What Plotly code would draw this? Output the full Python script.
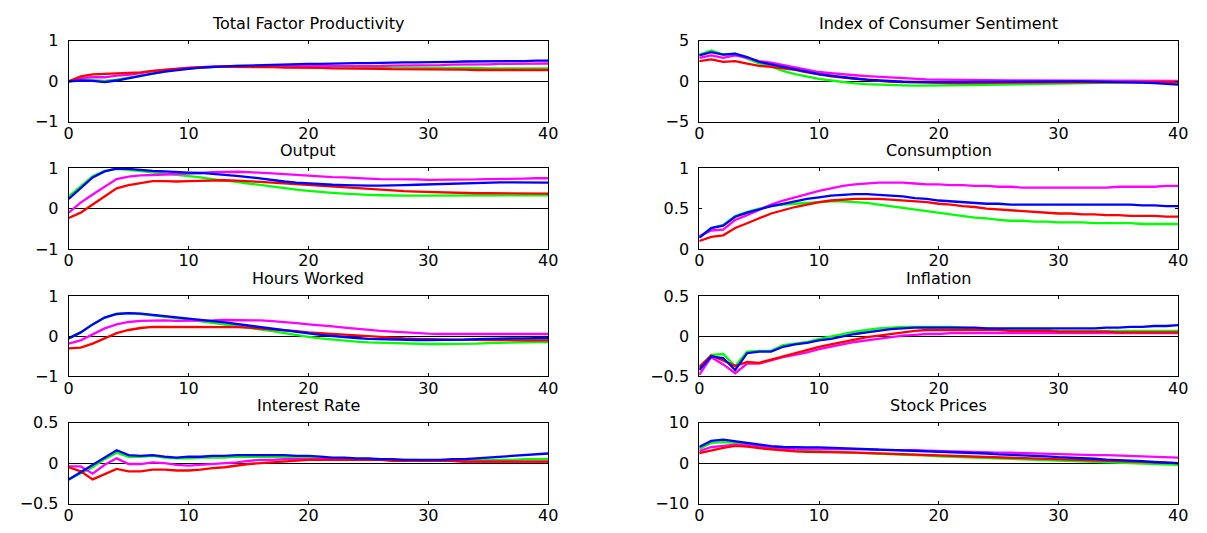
import plotly.graph_objects as go

x = list(range(41))

titles = ["Total Factor Productivity", "Index of Consumer Sentiment", "Output", "Consumption",
          "Hours Worked", "Inflation", "Interest Rate", "Stock Prices"]

series_names = ["green", "magenta", "red", "blue"]
colors = {"blue": "#0000FF", "green": "#00FF00", "magenta": "#FF00FF", "red": "#FF0000"}

# ---- Total Factor Productivity ----
tfp_blue = [0.00, 0.02, 0.01, -0.02, 0.02, 0.08, 0.13, 0.19, 0.24, 0.28,
            0.31, 0.34, 0.36, 0.37, 0.38, 0.39, 0.40, 0.41, 0.41, 0.42,
            0.43, 0.43, 0.44, 0.44, 0.45, 0.45, 0.46, 0.46, 0.47, 0.47,
            0.47, 0.48, 0.48, 0.49, 0.49, 0.49, 0.50, 0.50, 0.50, 0.51, 0.51]
tfp_green = [0.00, 0.03, 0.03, 0.01, 0.04, 0.09, 0.14, 0.20, 0.25, 0.29,
             0.32, 0.34, 0.36, 0.37, 0.38, 0.38, 0.38, 0.38, 0.38, 0.38,
             0.37, 0.37, 0.36, 0.36, 0.35, 0.35, 0.35, 0.34, 0.34, 0.34,
             0.33, 0.33, 0.33, 0.33, 0.33, 0.32, 0.32, 0.32, 0.32, 0.32, 0.32]
tfp_magenta = [0.00, 0.08, 0.10, 0.10, 0.14, 0.16, 0.20, 0.25, 0.28, 0.31,
               0.33, 0.35, 0.36, 0.37, 0.37, 0.37, 0.37, 0.37, 0.37, 0.37,
               0.37, 0.37, 0.37, 0.37, 0.38, 0.38, 0.38, 0.39, 0.39, 0.39,
               0.40, 0.40, 0.41, 0.41, 0.42, 0.42, 0.43, 0.43, 0.43, 0.44, 0.44]
tfp_red = [0.00, 0.12, 0.17, 0.18, 0.20, 0.20, 0.22, 0.26, 0.29, 0.31,
           0.33, 0.35, 0.36, 0.36, 0.36, 0.36, 0.35, 0.35, 0.34, 0.34,
           0.33, 0.33, 0.32, 0.32, 0.31, 0.31, 0.31, 0.30, 0.30, 0.30,
           0.29, 0.29, 0.29, 0.29, 0.28, 0.28, 0.28, 0.28, 0.28, 0.28, 0.28]

# ---- Index of Consumer Sentiment ----
ics_green = [3.3, 3.8, 3.3, 3.4, 2.8, 2.2, 1.8, 1.3, 0.9, 0.6,
             0.3, 0.1, -0.1, -0.25, -0.35, -0.42, -0.47, -0.5, -0.52, -0.53,
             -0.53, -0.52, -0.5, -0.48, -0.45, -0.42, -0.38, -0.34, -0.3, -0.27,
             -0.24, -0.21, -0.18, -0.16, -0.14, -0.13, -0.13, -0.14, -0.16, -0.18, -0.2]
ics_blue = [3.2, 3.6, 3.3, 3.4, 3.0, 2.4, 2.1, 1.8, 1.5, 1.2,
            0.9, 0.7, 0.5, 0.35, 0.2, 0.1, 0.0, -0.05, -0.08, -0.1,
            -0.1, -0.1, -0.09, -0.08, -0.06, -0.05, -0.03, -0.02, -0.01, 0.0,
            0.0, 0.0, 0.0, -0.02, -0.04, -0.07, -0.1, -0.15, -0.22, -0.3, -0.4]
ics_magenta = [2.9, 3.2, 2.9, 3.2, 2.9, 2.5, 2.3, 2.0, 1.7, 1.4,
               1.15, 1.0, 0.85, 0.75, 0.65, 0.55, 0.45, 0.37, 0.3, 0.24,
               0.2, 0.17, 0.15, 0.13, 0.12, 0.11, 0.1, 0.1, 0.1, 0.1,
               0.1, 0.1, 0.1, 0.1, 0.09, 0.09, 0.08, 0.07, 0.06, 0.05, 0.05]
ics_red = [2.5, 2.7, 2.4, 2.5, 2.2, 1.9, 1.8, 1.6, 1.4, 1.1,
           0.85, 0.6, 0.45, 0.3, 0.15, 0.05, -0.05, -0.1, -0.15, -0.18,
           -0.2, -0.21, -0.22, -0.22, -0.21, -0.2, -0.19, -0.17, -0.15, -0.13,
           -0.12, -0.11, -0.1, -0.1, -0.1, -0.1, -0.1, -0.1, -0.1, -0.1, -0.1]

# ---- Output ----
out_green = [0.30, 0.55, 0.80, 0.93, 0.98, 0.96, 0.93, 0.90, 0.87, 0.84,
             0.80, 0.77, 0.73, 0.70, 0.66, 0.62, 0.58, 0.54, 0.50, 0.47,
             0.44, 0.41, 0.39, 0.37, 0.35, 0.34, 0.33, 0.32, 0.32, 0.32,
             0.32, 0.32, 0.32, 0.32, 0.32, 0.32, 0.32, 0.33, 0.33, 0.33, 0.33]
out_blue = [0.24, 0.50, 0.77, 0.92, 0.99, 0.98, 0.95, 0.93, 0.92, 0.90,
            0.89, 0.88, 0.86, 0.84, 0.81, 0.78, 0.74, 0.70, 0.67, 0.64,
            0.62, 0.60, 0.59, 0.58, 0.57, 0.57, 0.57, 0.57, 0.58, 0.59,
            0.60, 0.61, 0.62, 0.63, 0.64, 0.64, 0.65, 0.65, 0.65, 0.65, 0.64]
out_magenta = [-0.10, 0.15, 0.35, 0.55, 0.73, 0.79, 0.82, 0.83, 0.84, 0.85,
               0.86, 0.88, 0.90, 0.91, 0.91, 0.90, 0.89, 0.87, 0.85, 0.83,
               0.81, 0.80, 0.78, 0.77, 0.75, 0.74, 0.73, 0.73, 0.72, 0.72,
               0.71, 0.71, 0.71, 0.72, 0.72, 0.73, 0.73, 0.74, 0.74, 0.75, 0.75]
out_red = [-0.23, -0.10, 0.10, 0.30, 0.50, 0.58, 0.63, 0.68, 0.68, 0.67,
           0.68, 0.69, 0.70, 0.70, 0.69, 0.68, 0.66, 0.64, 0.62, 0.60,
           0.58, 0.56, 0.54, 0.52, 0.50, 0.48, 0.46, 0.44, 0.43, 0.42,
           0.41, 0.40, 0.39, 0.39, 0.38, 0.38, 0.38, 0.37, 0.37, 0.37, 0.37]

# ---- Consumption ----
con_green = [0.15, 0.26, 0.30, 0.41, 0.46, 0.50, 0.53, 0.55, 0.56, 0.57,
             0.58, 0.59, 0.59, 0.58, 0.57, 0.55, 0.53, 0.51, 0.49, 0.47,
             0.45, 0.43, 0.41, 0.39, 0.38, 0.36, 0.35, 0.35, 0.34, 0.34,
             0.33, 0.33, 0.33, 0.32, 0.32, 0.32, 0.32, 0.31, 0.31, 0.31, 0.31]
con_blue = [0.14, 0.26, 0.29, 0.40, 0.45, 0.49, 0.53, 0.56, 0.59, 0.62,
            0.64, 0.66, 0.67, 0.68, 0.68, 0.67, 0.66, 0.65, 0.63, 0.62,
            0.60, 0.59, 0.58, 0.57, 0.56, 0.56, 0.55, 0.55, 0.55, 0.55,
            0.55, 0.55, 0.55, 0.55, 0.55, 0.55, 0.55, 0.54, 0.54, 0.53, 0.53]
con_magenta = [0.16, 0.23, 0.24, 0.36, 0.42, 0.48, 0.55, 0.60, 0.64, 0.68,
               0.72, 0.75, 0.78, 0.80, 0.81, 0.82, 0.82, 0.82, 0.81, 0.80,
               0.80, 0.79, 0.79, 0.78, 0.78, 0.77, 0.77, 0.76, 0.76, 0.76,
               0.76, 0.76, 0.76, 0.76, 0.76, 0.77, 0.77, 0.77, 0.77, 0.78, 0.78]
con_red = [0.10, 0.15, 0.17, 0.26, 0.32, 0.38, 0.44, 0.48, 0.52, 0.55,
           0.58, 0.60, 0.61, 0.62, 0.62, 0.62, 0.61, 0.60, 0.59, 0.58,
           0.56, 0.55, 0.53, 0.52, 0.50, 0.49, 0.48, 0.47, 0.46, 0.45,
           0.44, 0.44, 0.43, 0.43, 0.42, 0.42, 0.41, 0.41, 0.41, 0.40, 0.40]

# ---- Hours Worked ----
hrs_green = [-0.05, 0.10, 0.30, 0.47, 0.56, 0.58, 0.56, 0.53, 0.50, 0.46,
             0.42, 0.38, 0.34, 0.30, 0.26, 0.22, 0.18, 0.13, 0.08, 0.03,
             -0.01, -0.05, -0.08, -0.11, -0.13, -0.15, -0.16, -0.17, -0.18, -0.19,
             -0.19, -0.19, -0.19, -0.18, -0.18, -0.17, -0.16, -0.15, -0.15, -0.14, -0.14]
hrs_blue = [-0.05, 0.10, 0.30, 0.47, 0.56, 0.58, 0.57, 0.54, 0.51, 0.48,
            0.45, 0.42, 0.39, 0.35, 0.31, 0.27, 0.23, 0.19, 0.15, 0.11,
            0.07, 0.04, 0.01, -0.02, -0.04, -0.06, -0.07, -0.08, -0.08, -0.09,
            -0.09, -0.09, -0.08, -0.08, -0.07, -0.06, -0.06, -0.05, -0.05, -0.04, -0.04]
hrs_magenta = [-0.18, -0.10, 0.05, 0.20, 0.30, 0.36, 0.39, 0.40, 0.40, 0.39,
               0.39, 0.39, 0.40, 0.41, 0.41, 0.41, 0.40, 0.38, 0.36, 0.33,
               0.30, 0.28, 0.25, 0.22, 0.19, 0.16, 0.14, 0.12, 0.10, 0.08,
               0.07, 0.06, 0.06, 0.05, 0.05, 0.05, 0.05, 0.05, 0.06, 0.06, 0.06]
hrs_red = [-0.30, -0.28, -0.18, -0.05, 0.08, 0.16, 0.21, 0.24, 0.24, 0.24,
           0.23, 0.23, 0.23, 0.23, 0.23, 0.22, 0.20, 0.18, 0.16, 0.13,
           0.10, 0.08, 0.06, 0.04, 0.02, 0.00, -0.02, -0.04, -0.05, -0.06,
           -0.07, -0.08, -0.08, -0.08, -0.09, -0.09, -0.09, -0.10, -0.10, -0.10, -0.10]

# ---- Inflation ----
inf_green = [-0.40, -0.23, -0.22, -0.37, -0.19, -0.18, -0.18, -0.11, -0.09, -0.07,
             -0.03, 0.00, 0.03, 0.06, 0.08, 0.10, 0.11, 0.12, 0.12, 0.12,
             0.12, 0.12, 0.11, 0.10, 0.10, 0.09, 0.09, 0.08, 0.08, 0.08,
             0.07, 0.07, 0.07, 0.07, 0.07, 0.07, 0.07, 0.07, 0.07, 0.07, 0.07]
inf_blue = [-0.42, -0.25, -0.27, -0.42, -0.21, -0.19, -0.19, -0.13, -0.10, -0.08,
            -0.05, -0.03, 0.00, 0.03, 0.05, 0.07, 0.09, 0.10, 0.11, 0.11,
            0.11, 0.11, 0.11, 0.11, 0.10, 0.10, 0.10, 0.10, 0.10, 0.10,
            0.10, 0.10, 0.10, 0.10, 0.11, 0.11, 0.12, 0.12, 0.13, 0.13, 0.14]
inf_magenta = [-0.48, -0.26, -0.35, -0.46, -0.34, -0.34, -0.30, -0.26, -0.23, -0.20,
               -0.16, -0.13, -0.10, -0.07, -0.05, -0.03, -0.01, 0.01, 0.02, 0.03,
               0.03, 0.04, 0.04, 0.04, 0.04, 0.04, 0.04, 0.04, 0.04, 0.04,
               0.04, 0.04, 0.04, 0.04, 0.04, 0.04, 0.04, 0.04, 0.04, 0.04, 0.04]
inf_red = [-0.38, -0.24, -0.30, -0.37, -0.32, -0.33, -0.29, -0.25, -0.21, -0.17,
           -0.13, -0.10, -0.07, -0.04, -0.01, 0.01, 0.03, 0.05, 0.07, 0.08,
           0.08, 0.08, 0.08, 0.08, 0.08, 0.08, 0.07, 0.07, 0.07, 0.07,
           0.06, 0.06, 0.06, 0.06, 0.06, 0.05, 0.05, 0.05, 0.05, 0.05, 0.05]

# ---- Interest Rate ----
ir_blue = [-0.20, -0.11, -0.02, 0.08, 0.16, 0.10, 0.09, 0.10, 0.08, 0.07,
           0.08, 0.08, 0.09, 0.09, 0.10, 0.10, 0.10, 0.10, 0.10, 0.09,
           0.09, 0.08, 0.07, 0.07, 0.06, 0.06, 0.05, 0.05, 0.04, 0.04,
           0.04, 0.04, 0.05, 0.05, 0.06, 0.07, 0.08, 0.09, 0.10, 0.11, 0.12]
ir_green = [-0.20, -0.12, -0.05, 0.05, 0.13, 0.08, 0.08, 0.09, 0.07, 0.06,
            0.06, 0.07, 0.07, 0.07, 0.08, 0.08, 0.08, 0.08, 0.08, 0.08,
            0.07, 0.07, 0.06, 0.06, 0.05, 0.05, 0.05, 0.04, 0.04, 0.04,
            0.03, 0.03, 0.03, 0.03, 0.04, 0.04, 0.04, 0.04, 0.05, 0.05, 0.05]
ir_magenta = [-0.04, -0.04, -0.13, -0.02, 0.06, -0.01, -0.01, 0.01, 0.00, -0.02,
              -0.03, -0.02, -0.01, 0.00, 0.01, 0.03, 0.04, 0.04, 0.05, 0.05,
              0.05, 0.05, 0.05, 0.05, 0.04, 0.04, 0.04, 0.04, 0.03, 0.03,
              0.03, 0.03, 0.03, 0.02, 0.02, 0.02, 0.02, 0.02, 0.02, 0.02, 0.02]
ir_red = [-0.05, -0.10, -0.20, -0.13, -0.07, -0.10, -0.10, -0.08, -0.08, -0.09,
          -0.09, -0.08, -0.06, -0.05, -0.03, -0.01, 0.00, 0.01, 0.02, 0.03,
          0.04, 0.04, 0.04, 0.04, 0.04, 0.04, 0.04, 0.03, 0.03, 0.03,
          0.03, 0.03, 0.03, 0.02, 0.02, 0.02, 0.02, 0.02, 0.02, 0.02, 0.02]

# ---- Stock Prices ----
sp_blue = [4.0, 5.5, 5.8, 5.4, 4.9, 4.5, 4.2, 4.0, 3.9, 3.9,
           3.9, 3.8, 3.7, 3.6, 3.5, 3.4, 3.3, 3.2, 3.1, 3.0,
           2.9, 2.8, 2.6, 2.5, 2.4, 2.2, 2.1, 2.0, 1.8, 1.7,
           1.5, 1.4, 1.2, 1.1, 0.9, 0.8, 0.6, 0.5, 0.3, 0.2, 0.0]
sp_green = [3.5, 5.0, 5.2, 5.0, 4.5, 4.0, 3.6, 3.3, 3.1, 3.0,
            2.9, 2.8, 2.7, 2.6, 2.5, 2.4, 2.2, 2.1, 2.0, 1.9,
            1.7, 1.6, 1.5, 1.4, 1.2, 1.1, 1.0, 0.9, 0.8, 0.7,
            0.6, 0.5, 0.4, 0.3, 0.2, 0.1, 0.0, -0.1, -0.2, -0.3, -0.4]
sp_magenta = [3.0, 4.0, 4.3, 4.6, 4.4, 4.1, 3.8, 3.6, 3.5, 3.5,
              3.5, 3.5, 3.5, 3.4, 3.4, 3.3, 3.3, 3.2, 3.2, 3.1,
              3.0, 3.0, 2.9, 2.8, 2.7, 2.6, 2.6, 2.5, 2.4, 2.3,
              2.2, 2.2, 2.1, 2.0, 2.0, 1.9, 1.8, 1.7, 1.6, 1.5, 1.4]
sp_red = [2.5, 3.2, 3.8, 4.3, 4.1, 3.7, 3.4, 3.1, 2.9, 2.8,
          2.8, 2.7, 2.7, 2.6, 2.5, 2.4, 2.3, 2.2, 2.1, 2.0,
          1.9, 1.8, 1.7, 1.6, 1.5, 1.4, 1.3, 1.2, 1.1, 1.0,
          0.9, 0.8, 0.7, 0.6, 0.5, 0.4, 0.3, 0.2, 0.1, 0.05, 0.0]

panels = [
    {"green": tfp_green, "magenta": tfp_magenta, "red": tfp_red, "blue": tfp_blue},
    {"green": ics_green, "magenta": ics_magenta, "red": ics_red, "blue": ics_blue},
    {"green": out_green, "magenta": out_magenta, "red": out_red, "blue": out_blue},
    {"green": con_green, "magenta": con_magenta, "red": con_red, "blue": con_blue},
    {"green": hrs_green, "magenta": hrs_magenta, "red": hrs_red, "blue": hrs_blue},
    {"green": inf_green, "magenta": inf_magenta, "red": inf_red, "blue": inf_blue},
    {"green": ir_green, "magenta": ir_magenta, "red": ir_red, "blue": ir_blue},
    {"green": sp_green, "magenta": sp_magenta, "red": sp_red, "blue": sp_blue},
]

y_ranges = [[-1, 1], [-5, 5], [-1, 1], [0, 1], [-1, 1], [-0.5, 0.5], [-0.5, 0.5], [-10, 10]]
y_ticks = [[-1, 0, 1], [-5, 0, 5], [-1, 0, 1], [0, 0.5, 1], [-1, 0, 1],
           [-0.5, 0, 0.5], [-0.5, 0, 0.5], [-10, 0, 10]]
x_ticks = [0, 10, 20, 30, 40]

W, H = 1207, 533
col_px = [(64.5, 550), (703, 1188)]
row_px = [(33, 117), (165, 249), (298, 381), (429, 513)]

FONT = "DejaVu Sans"
FS = 16
fig = go.Figure()
layout = dict(width=W, height=H, margin=dict(l=0, r=0, t=0, b=0),
              paper_bgcolor="white", plot_bgcolor="white", showlegend=False,
              font=dict(family=FONT, size=FS, color="black"))
annotations = []

for i in range(8):
    r, c = divmod(i, 2)
    n = i + 1
    xa = "xaxis" if n == 1 else f"xaxis{n}"
    ya = "yaxis" if n == 1 else f"yaxis{n}"
    xref = "x" if n == 1 else f"x{n}"
    yref = "y" if n == 1 else f"y{n}"
    x0, x1 = col_px[c]
    top, bot = row_px[r]
    common = dict(showline=True, linecolor="black", linewidth=1, mirror="allticks",
                  ticks="inside", ticklen=3, tickcolor="black", showgrid=False,
                  tickfont=dict(family=FONT, size=FS, color="black"))
    layout[xa] = dict(domain=[x0 / W, x1 / W], anchor=yref, range=[0, 40],
                      tickvals=x_ticks, zeroline=False, ticklabelstandoff=-3, **common)
    layout[ya] = dict(domain=[1 - bot / H, 1 - top / H], anchor=xref, range=y_ranges[i],
                      tickvals=y_ticks[i], zeroline=True, zerolinecolor="black",
                      zerolinewidth=1, ticklabelstandoff=6, **common)
    for name in series_names:
        fig.add_trace(go.Scatter(x=x, y=panels[i][name], mode="lines",
                                 line=dict(color=colors[name], width=2.3),
                                 xaxis=xref, yaxis=yref, hoverinfo="skip"))
    annotations.append(dict(text=titles[i], x=(x0 + x1) / 2 / W, y=1 - top / H,
                            xref="paper", yref="paper", xanchor="center", yanchor="bottom",
                            yshift=6, showarrow=False,
                            font=dict(family=FONT, size=FS, color="black")))

layout["annotations"] = annotations
fig.update_layout(**layout)
fig.write_html("out.html")
